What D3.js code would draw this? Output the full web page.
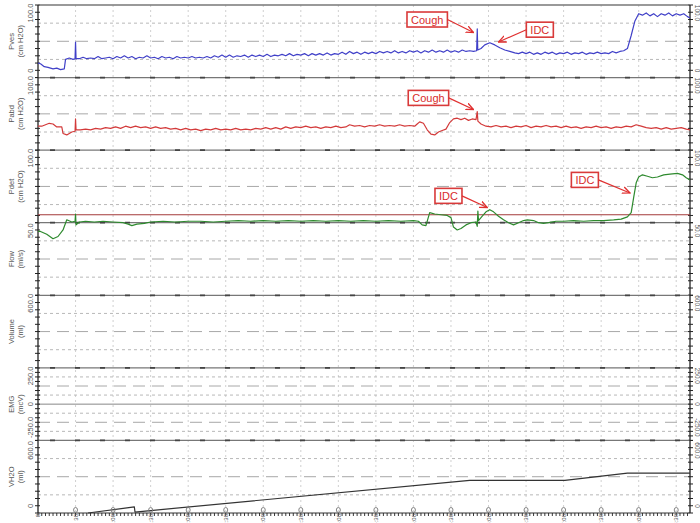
<!DOCTYPE html>
<html>
<head>
<meta charset="utf-8">
<script src="https://cdn.jsdelivr.net/npm/d3@7"></script>
<style>
  body{margin:0;background:#fff}
  svg{display:block;font-family:Arial,"Liberation Sans",sans-serif}
</style>
</head>
<body>
<div id="chart"></div>
<script>
// ---- data (time in seconds, values in channel units) ----
var pvesData = [[0,20],[2,19],[5,15],[8,14],[12,12],[15,13],[18,11],[21,12],[22,25],[25,27],[28,25],[29.6,26],[30,49],[30.4,26],
  [33,26],[36,28],[39,26],[42,27],[45,26],[48,29],[51,26],[54,27],[57,28],[60,26],[63,29],[66,27],[69,30],[72,27],[75,29],[78,26],
  [81,28],[84,27],[87,30],[90,27],[93,28],[96,26],[99,29],[102,27],[105,28],[108,26],[111,29],[114,27],[117,28],[120,27],[123,29],
  [126,27],[129,28],[132,27],[135,29],[138,27],[141,30],[144,28],[147,31],[150,28],[153,31],[156,28],[159,30],[162,29],[165,31],
  [168,28],[171,31],[174,29],[177,31],[180,29],[183,32],[186,29],[189,31],[192,30],[195,32],[198,30],[201,33],[204,30],[207,32],
  [210,31],[213,33],[216,30],[219,33],[222,31],[225,33],[228,31],[231,34],[234,31],[237,33],[240,32],[243,35],[246,32],[249,36],
  [252,33],[255,35],[258,32],[261,35],[264,33],[267,35],[270,33],[273,36],[276,34],[279,36],[282,34],[285,37],[288,34],[291,36],
  [294,34],[297,37],[300,35],[303,37],[306,34],[309,37],[312,35],[315,38],[318,35],[321,37],[324,35],[327,38],[330,35],[333,37],
  [336,35],[339,38],[342,36],[345,37],[348,36],[350.5,37],[351,67],[351.4,38],[354,40],[357,45],[361,48],[365,45],[369,41],
  [373,38],[377,36],[381,34],[384,33],[387,35],[390,33],[393,35],[396,32],[399,34],[402,32],[405,35],[408,33],[411,35],[414,32],
  [417,34],[420,33],[423,35],[426,32],[429,34],[432,33],[435,35],[438,32],[441,34],[444,33],[447,35],[450,33],[453,34],[456,33],
  [459,36],[462,34],[465,36],[468,37],[471,40],[474,58],[477,78],[480,88],[483,86],[486,89],[489,85],[492,88],[495,84],[498,88],
  [501,86],[504,89],[507,85],[510,88],[513,86],[516,88],[519,84],[521,82]];

var pabdData = [[0,33],[3,33],[6,35],[9,37],[12,36],[15,32],[19,32],[20,23],[23,21],[27,25],[29.6,26],[30,43],[30.4,28],
  [34,28],[38,29],[42,28],[46,30],[50,29],[54,31],[58,30],[62,32],[66,30],[70,33],[74,31],[78,33],[82,31],[86,32],[90,30],
  [94,32],[98,30],[102,31],[106,29],[110,30],[114,28],[118,30],[122,28],[126,29],[130,27],[134,29],[138,28],[142,30],[146,28],
  [150,29],[154,28],[158,30],[162,28],[166,29],[170,28],[174,30],[178,29],[182,31],[186,29],[190,31],[194,29],[198,32],[202,30],
  [206,32],[210,31],[214,33],[218,31],[222,32],[226,30],[230,32],[234,31],[238,33],[242,31],[246,32],[249,35],[253,33],[257,34],
  [261,32],[265,34],[269,33],[273,35],[277,33],[281,34],[285,33],[289,35],[293,33],[297,34],[301,33],[303,36],[305,39],[308,37],
  [311,28],[314,22],[317,21],[320,25],[323,27],[326,29],[329,38],[332,43],[335,44],[338,42],[341,44],[344,41],[347,43],[350,42],
  [351,53],[351.5,40],[354,36],[358,33],[362,32],[366,34],[370,32],[374,33],[378,31],[382,33],[386,32],[390,34],[394,31],[398,33],
  [402,32],[406,34],[410,32],[414,33],[418,31],[422,33],[426,31],[430,32],[434,30],[438,32],[442,31],[446,33],[450,31],[454,32],
  [458,30],[462,32],[466,31],[470,33],[474,32],[478,35],[482,33],[486,31],[490,30],[494,31],[498,29],[502,31],[506,29],[510,30],
  [514,31],[518,29],[521,28]];

var pdetData = [[0,-12],[2,-12],[7,-16],[12,-22],[16,-19],[20,-10],[23,4],[27,1],[29.6,2],[30,12],[30.4,-3],[33,1],[38,2],
  [45,1],[52,2],[60,1],[68,0],[72,-2],[75,-4],[79,-2],[85,-1],[90,1],[100,2],[110,1],[120,2],[130,2],[140,1],[150,2],[160,3],
  [170,2],[180,3],[190,2],[200,3],[210,2],[220,3],[230,2],[240,3],[250,2],[260,3],[270,2],[280,3],[290,2],[300,3],[304,2],
  [307,-3],[310,-4],[313,14],[317,12],[322,11],[327,10],[330,7],[332,-6],[335,-10],[338,-8],[342,-3],[346,0],[350,1],[351,-5],
  [351.5,16],[352,3],[355,9],[358,15],[361,18],[364,15],[368,9],[372,4],[376,0],[380,-3],[384,0],[388,3],[391,4],[396,3],
  [400,0],[404,-1],[408,0],[414,2],[420,2],[428,3],[436,2],[444,3],[452,3],[460,4],[466,5],[471,8],[474,14],[476,35],[478,55],
  [480,63],[483,66],[487,64],[491,62],[495,63],[500,66],[505,67],[511,68],[515,66],[518,62],[521,59]];

var vh2oData = [[40,0],[77,50],[77.5,8],[345,270],[421,270],[471,330],[521,330]];

var pdetRefLine = 11;

var panelNames = ["Pves","Pabd","Pdet","Flow","Volume","EMG","VH2O"];
var panelUnits = ["(cm H2O)","(cm H2O)","(cm H2O)","(ml/s)","(ml)","(mcV)","(ml)"];
var panelMin   = [0, 0, 0, 0, 0, -250, 0];
var panelMax   = [100, 100, 100, 50, 600, 250, 600];
var panelTopLabel    = ["100.0","100.0","100.0","50.0","600.0","250.0","600.0"];
var panelBottomLabel = ["0","","","","","-250.0","0"];

var xTicks = [0,30,60,90,120,150,180,210,240,270,300,330,360,390,420,450,480,510];
var xTickLabels = ["0","30","1:00","1:30","2:00","2:30","3:00","3:30","4:00","4:30","5:00","5:30","6:00","6:30","7:00","7:30","8:00","8:30"];

var notes = [
  {text:"Cough", panel:0, bx:311, by:80, tx:348, ty:62},
  {text:"IDC",   panel:0, bx:401, by:66, tx:368, ty:49},
  {text:"Cough", panel:1, bx:312, by:72, tx:348, ty:56},
  {text:"IDC",   panel:2, bx:328, by:37, tx:359, ty:21},
  {text:"IDC",   panel:2, bx:437, by:59, tx:473, ty:41}
];

!function(){
  var W = 700, H = 523;
  var mLeft = 38, mRight = 690, mTop = 5, mBottom = 513;
  var panelH = (mBottom - mTop) / panelNames.length;

  var svg = d3.select("#chart").append("svg").attr("width", W).attr("height", H);

  var x = d3.scaleLinear().domain([0, 521]).range([mLeft, mRight]);

  var ys = panelNames.map(function(n, i){
    var y0 = mTop + i * panelH;
    return d3.scaleLinear().domain([panelMin[i], panelMax[i]]).range([y0 + panelH, y0]);
  });

  // vertical grid
  svg.append("g").selectAll("line").data(xTicks.slice(1)).join("line")
    .attr("x1", function(d){ return x(d); }).attr("x2", function(d){ return x(d); })
    .attr("y1", mTop).attr("y2", mBottom)
    .attr("stroke", "#c4c4c4").attr("stroke-width", 0.8).attr("stroke-dasharray", "2,3");

  // horizontal grid per panel
  panelNames.forEach(function(n, i){
    var y = ys[i], lo = panelMin[i], hi = panelMax[i], span = hi - lo;
    var g = svg.append("g");
    var steps = n === "EMG" ? [1,2,3,4,5,6,7].map(function(k){ return lo + span * k / 8; })
                            : [1,2,3].map(function(k){ return lo + span * k / 4; });
    steps.forEach(function(v, k){
      var mid = n === "EMG" ? (k === 3) : (k === 1);
      var dashed = n === "EMG" ? (k === 1 || k === 5) : false;
      var line = g.append("line")
        .attr("x1", mLeft).attr("x2", mRight)
        .attr("y1", y(v)).attr("y2", y(v));
      if (mid && n === "EMG") line.attr("stroke", "#888").attr("stroke-width", 1);
      else if (mid || dashed) line.attr("stroke", "#a8a8a8").attr("stroke-width", 1).attr("stroke-dasharray", "12,7");
      else line.attr("stroke", "#b8b8b8").attr("stroke-width", 1).attr("stroke-dasharray", "3,3");
    });

    // left and right minor ticks
    var nT = n === "EMG" ? 16 : 10;
    var tv = d3.range(nT + 1).map(function(k){ return lo + span * k / nT; });
    g.selectAll(".lt").data(tv).join("line").attr("class","lt")
      .attr("x1", mLeft - 3).attr("x2", mLeft + 2)
      .attr("y1", function(d){ return y(d); }).attr("y2", function(d){ return y(d); })
      .attr("stroke", "#222").attr("stroke-width", 1);
    g.selectAll(".rt").data(tv).join("line").attr("class","rt")
      .attr("x1", mRight - 2).attr("x2", mRight + 3)
      .attr("y1", function(d){ return y(d); }).attr("y2", function(d){ return y(d); })
      .attr("stroke", "#222").attr("stroke-width", 1);

    // axis value labels (rotated)
    var y0 = y.range()[1], y1 = y.range()[0];
    function vlab(txt, cy){
      if (!txt) return;
      g.append("text").attr("transform", "translate(" + (mLeft - 5) + "," + cy + ") rotate(-90)")
        .attr("text-anchor", "middle").attr("font-size", 7.5).attr("fill", "#555").text(txt);
      g.append("text").attr("transform", "translate(" + (mRight + 4.5) + "," + cy + ") rotate(90)")
        .attr("text-anchor", "middle").attr("font-size", 6.5).attr("fill", "#555").text(txt);
    }
    vlab(panelTopLabel[i], y0 + (n === "VH2O" ? 10 : 8));
    if (n === "EMG") vlab("0", y(0));
    vlab(panelBottomLabel[i], y1 - (n === "EMG" ? 13 : 7));

    // channel name
    var cy = (y0 + y1) / 2;
    g.append("text").attr("transform", "translate(14," + cy + ") rotate(-90)")
      .attr("text-anchor", "middle").attr("font-size", 7.5).attr("fill", "#555").text(n);
    g.append("text").attr("transform", "translate(23," + cy + ") rotate(-90)")
      .attr("text-anchor", "middle").attr("font-size", 7.5).attr("fill", "#555").text(panelUnits[i]);
  });

  // panel separators
  d3.range(panelNames.length + 1).forEach(function(k){
    var yy = mTop + k * panelH;
    svg.append("line").attr("x1", mLeft).attr("x2", mRight).attr("y1", yy).attr("y2", yy)
      .attr("stroke", "#777").attr("stroke-width", 1.3);
    if (k > 0 && k < panelNames.length)
      svg.append("line").attr("x1", mLeft + 12).attr("x2", mRight).attr("y1", yy).attr("y2", yy)
        .attr("stroke", "#444").attr("stroke-width", 1.8).attr("stroke-dasharray", "5,20");
  });

  // left / right axis lines
  svg.append("line").attr("x1", mLeft).attr("x2", mLeft).attr("y1", mTop).attr("y2", mBottom).attr("stroke", "#222").attr("stroke-width", 1.3);
  svg.append("line").attr("x1", mRight).attr("x2", mRight).attr("y1", mTop).attr("y2", mBottom).attr("stroke", "#222").attr("stroke-width", 1.3);

  // Pdet reference line
  svg.append("line").attr("x1", mLeft).attr("x2", mRight)
    .attr("y1", ys[2](pdetRefLine)).attr("y2", ys[2](pdetRefLine))
    .attr("stroke", "#a33a3a").attr("stroke-width", 1.2);

  // traces
  function trace(data, yi, color){
    var line = d3.line().x(function(d){ return x(d[0]); }).y(function(d){ return ys[yi](d[1]); });
    svg.append("path").datum(data).attr("d", line)
      .attr("fill", "none").attr("stroke", color).attr("stroke-width", 1.2).attr("stroke-linejoin", "round");
  }
  trace(pvesData, 0, "#4040c8");
  trace(pabdData, 1, "#d33a3a");
  trace(pdetData, 2, "#2e8a2e");
  trace(vh2oData, 6, "#333333");

  // x axis: minor ticks, markers, labels
  var xa = svg.append("g");
  xa.selectAll(".mt").data(d3.range(0, 522, 3)).join("line").attr("class","mt")
    .attr("x1", function(d){ return x(d); }).attr("x2", function(d){ return x(d); })
    .attr("y1", mBottom).attr("y2", mBottom + 3).attr("stroke", "#222").attr("stroke-width", 0.9);
  xa.selectAll("ellipse").data(xTicks.slice(1)).join("ellipse")
    .attr("cx", function(d){ return x(d); }).attr("cy", mBottom - 3)
    .attr("rx", 2).attr("ry", 2.5).attr("fill", "none").attr("stroke", "#777").attr("stroke-width", 0.9);
  xa.selectAll("text").data(xTicks).join("text")
    .attr("transform", function(d){ return "translate(" + (x(d) + 2.2) + "," + (mBottom + 1) + ") rotate(-90)"; })
    .attr("text-anchor", "end").attr("font-size", 6).attr("fill", "#555")
    .text(function(d, i){ return xTickLabels[i]; });

  // annotations
  svg.append("defs").append("marker").attr("id", "arr")
    .attr("viewBox", "0 0 10 10").attr("refX", 9).attr("refY", 5)
    .attr("markerWidth", 7).attr("markerHeight", 7).attr("orient", "auto")
    .append("path").attr("d", "M0,1 L9,5 L0,9").attr("fill", "none").attr("stroke", "#e03030").attr("stroke-width", 1.6);

  notes.forEach(function(a){
    var y = ys[a.panel];
    var cx = x(a.bx), cy = y(a.by);
    var g = svg.append("g");
    var t = g.append("text").attr("x", cx).attr("y", cy + 4).attr("text-anchor", "middle")
      .attr("font-size", 11).attr("fill", "#d92b2b").text(a.text);
    var bb = t.node().getBBox();
    var bw = bb.width + 8, bh = 15;
    g.insert("rect", "text").attr("x", cx - bw / 2).attr("y", cy - bh / 2).attr("width", bw).attr("height", bh)
      .attr("fill", "#fff").attr("stroke", "#d93a3a").attr("stroke-width", 1.6);
    var tx = x(a.tx), ty = y(a.ty);
    var sx = tx > cx ? cx + bw / 2 : cx - bw / 2;
    g.append("line").attr("x1", sx).attr("y1", cy).attr("x2", tx).attr("y2", ty)
      .attr("stroke", "#e03030").attr("stroke-width", 1.2).attr("marker-end", "url(#arr)");
  });
}();
</script>
</body>
</html>
